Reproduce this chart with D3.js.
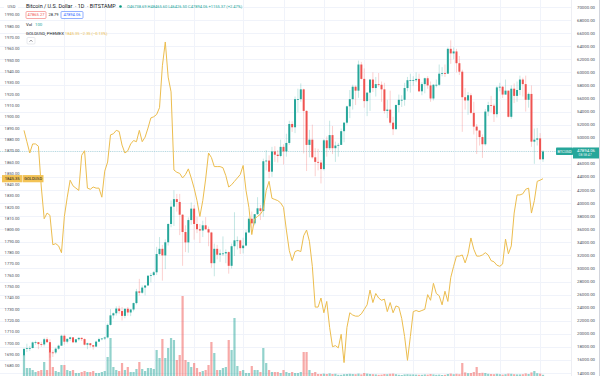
<!doctype html>
<html>
<head>
<meta charset="utf-8">
<script src="https://cdn.jsdelivr.net/npm/d3@7"></script>
<style>
  body { margin: 0; background: #fff; }
  svg { display: block; font-family: Roboto, "Liberation Sans", sans-serif; }
</style>
</head>
<body>
<svg id="chart" width="600" height="376"></svg>
<script>
// BTCUSD daily candles, 2020-11-17 .. 2021-05-16 (Bitstamp)
const firstOpen = 16720;
const btcClose = [
  17680, 17800, 17820, 18680, 18720, 18420, 18370, 19160, 18720, 17150, 17140, 17720, 18180, 19700,
  18790, 19220, 19450, 18700, 19160, 19380, 19190, 18330, 18550, 18260, 18040, 18800, 19180, 19280, 19440, 21360,
  22820, 23140, 23860, 23480, 22740, 23830, 23260, 23720, 24700, 26490, 26280, 27070, 27390, 28880, 28990,
  29410, 32200, 33000, 31990, 34000, 36800, 39450, 40600, 40170, 38220, 35570, 33980, 37400, 39150, 36800, 36000,
  35800, 36600, 36000, 35500, 30800, 33000, 32100, 32300, 32300, 32500, 30400, 33400, 34300, 34300, 33100,
  33500, 35500, 37600, 36900, 38300, 39200, 38800, 46400, 46500, 44800, 47900, 47400, 47200, 48600, 47900,
  49200, 52100, 51600, 55900, 55900, 57400, 54100, 48900, 49700, 47000, 46300, 46200, 45200,
  49600, 48400, 50400, 48400, 48800, 48900, 51000, 52300, 54800, 55900, 57800, 57200, 61200, 59000, 55600,
  56900, 58900, 57600, 58200, 58100, 57400, 54100, 54300, 52300, 51300, 55000, 55800, 55800, 57600, 58800, 58800,
  58800, 59000, 57100, 58200, 59100, 58000, 56000, 58100, 58100, 59800, 59900, 59800, 63600, 62900, 63200,
  61400, 60100, 56200, 55700, 56500, 53800, 51700, 51100, 50100, 49000, 54000, 55000, 54900, 53600, 57700,
  57800, 56600, 57200, 53200, 57500, 56400, 57300, 58900, 58200, 55800, 56700, 49400, 49700, 49900, 46700, 47894.06
];
const btcHigh = [
  17860, 18480, 18140, 18800, 18960, 18750, 18770, 19390, 19470, 19160, 17460, 17880, 18330, 19860,
  19920, 19320, 19550, 19510, 19180, 19420, 19410, 19300, 18640, 18560, 18270, 18950, 19400, 19350, 19570, 21560,
  23770, 23270, 24190, 24290, 24100, 23840, 24100, 23800, 24780, 26870, 28400, 27400, 27400, 28990, 29300,
  29600, 33300, 34800, 33600, 34450, 36900, 40400, 41950, 41400, 41400, 38300, 36600, 37800, 40100, 39700, 37900,
  36800, 37300, 37850, 36400, 35600, 33800, 33600, 32900, 34900, 32900, 32600, 33800, 38600, 34900, 34400,
  34700, 35900, 37800, 38700, 38300, 40900, 39700, 46800, 48100, 47300, 48600, 48700, 48100, 49700, 49000,
  50600, 52600, 52500, 56300, 57500, 58300, 57500, 54200, 51200, 52000, 48400, 48300, 46600,
  49800, 50200, 52600, 51800, 49400, 49200, 51400, 52400, 54900, 57300, 58100, 58000, 61800, 61600, 60600,
  56900, 58900, 60000, 59300, 59900, 58600, 58400, 55800, 57200, 53200, 55100, 56600, 56500, 58400, 59300, 59800,
  59400, 60000, 59800, 58500, 59200, 59400, 58600, 58200, 58900, 61200, 60800, 61200, 63800, 64900, 63800,
  63600, 62500, 60400, 57600, 57000, 56800, 55500, 52100, 51200, 50500, 54400, 55500, 56400, 55200, 57900,
  58400, 57900, 58900, 57200, 58000, 58300, 58600, 59500, 59200, 59500, 56900, 58000, 51400, 51500, 50700, 48100
];
const btcLow = [
  16560, 17220, 17350, 17770, 18330, 17650, 18000, 18060, 18600, 16330, 16450, 16880, 17550, 18180,
  18330, 18530, 18900, 18580, 18570, 18930, 18900, 18220, 17650, 17920, 17570, 18030, 18730, 19000, 19050, 19280,
  21260, 22330, 22780, 23070, 22030, 22370, 22750, 22700, 23430, 24500, 25850, 26100, 25880, 27350, 27880,
  28800, 29000, 32000, 28130, 29900, 33500, 36300, 36500, 38700, 35100, 30400, 32500, 32400, 36700, 34400, 35400,
  33900, 34800, 35900, 33400, 30100, 28800, 31400, 31000, 31900, 30800, 29200, 30000, 31900, 32900, 32200,
  32300, 33400, 35400, 36200, 36600, 38200, 37400, 37900, 45000, 43800, 44000, 46300, 46200, 47000, 45900,
  47100, 48900, 50900, 50700, 53900, 55500, 47600, 44900, 47000, 46800, 44100, 45000, 43000,
  45000, 47100, 48100, 47500, 46300, 47100, 48900, 49300, 52000, 53000, 54300, 55000, 56100, 58900, 54600,
  53300, 54100, 57000, 56300, 57800, 55500, 53700, 53000, 52000, 50400, 51300, 53900, 54700, 54900, 57100, 56900,
  57900, 58500, 57000, 56500, 56800, 57500, 55500, 55700, 57700, 57900, 59400, 59300, 59800, 61300, 62000,
  60000, 59600, 50900, 54300, 53500, 53600, 50500, 47500, 48800, 46900, 48800, 53300, 53900, 52400, 53100,
  57100, 56100, 56600, 53100, 52900, 55300, 55500, 56500, 56300, 54000, 54600, 48600, 46000, 48800, 46600, 46300
];
// volume, thousand BTC
const btcVolume = [
  10.5, 4, 4, 3, 2, 2.5, 3, 7, 3, 12, 4.5, 2.5, 2, 5.5,
  5.5, 3, 2.5, 3, 1.5, 1.5, 2, 2.5, 2, 2, 2.5, 1.5, 1.5, 2, 2.5, 9.5, 19, 4.5, 3, 2.5, 6.5, 3, 4.5, 2, 2, 3.5, 7, 3.5, 2.5, 4, 4,
  3.5, 13, 9, 18.5, 9, 14, 19, 18, 8, 10.5, 40, 8, 7, 4.5, 6.5, 4, 2, 2.5, 3, 5.5, 17, 11.5, 3, 3, 4, 4.5, 18, 13, 29, 5, 2.5,
  3, 1.5, 1.5, 5, 3, 3, 2, 14, 6.5, 3, 2, 2, 2, 1.5, 3, 2, 1.5, 2, 1.5, 1.5, 2, 12, 12, 3, 1.5, 2, 1, 1,
  1.2, 1.0, 1.3, 1.0, 1.1, 0.6, 0.6, 0.9, 1.0, 1.1, 1.0, 0.9, 1.2, 0.8, 1.5, 1.2, 1.0, 0.9, 0.8, 0.6, 0.7, 1.0, 0.9, 1.1, 1.2, 0.9, 0.6, 0.5, 0.8, 0.9, 0.8,
  0.8, 0.7, 0.6, 0.6, 0.8, 0.7, 1.0, 0.8, 0.6, 0.7, 0.5, 0.6, 1.0, 1.2, 0.9, 1.1, 0.9, 6.5, 1.8, 1.4, 1.5, 2.0, 4.5, 1.5, 1.6, 1.5, 1.1, 1.0, 0.9, 1.1,
  0.9, 0.7, 0.9, 1.2, 1.1, 0.9, 0.8, 0.8, 0.9, 1.3, 1.0, 1.8, 2.5, 1.4, 1.2, 0.6
];
// GOLDUSD (PHEMEX) close on the same days
const goldClose = [
  1888, 1878, 1868, 1876, 1876, 1874, 1838, 1810, 1815, 1813, 1787, 1788, 1786, 1780,
  1812, 1829, 1844, 1839, 1837, 1835, 1866, 1870, 1837, 1836, 1838, 1837, 1837, 1829, 1852, 1860,
  1884, 1885, 1888, 1887, 1875, 1868, 1870, 1876, 1879, 1878, 1888, 1878, 1882, 1890, 1899,
  1900, 1902, 1908, 1945, 1966, 1935, 1922, 1853, 1851, 1850, 1846, 1849, 1854, 1846, 1837, 1826,
  1812, 1826, 1845, 1868, 1864, 1856, 1856, 1856, 1855, 1848, 1838, 1840, 1843, 1846, 1849,
  1857, 1835, 1820, 1796, 1810, 1812, 1814, 1818, 1835, 1843, 1828, 1827, 1826, 1824, 1820,
  1800, 1782, 1773, 1781, 1782, 1781, 1795, 1800, 1790, 1768, 1732, 1732, 1740,
  1727, 1737, 1714, 1697, 1698, 1696, 1708, 1683, 1714, 1727, 1725, 1724, 1724, 1726, 1730,
  1734, 1747, 1736, 1744, 1740, 1738, 1739, 1728, 1736, 1727, 1733, 1732, 1722, 1706, 1685, 1706,
  1728, 1729, 1728, 1729, 1730, 1743, 1738, 1753, 1744, 1742, 1734, 1746, 1737, 1758, 1768,
  1777, 1777, 1778, 1771, 1779, 1793, 1783, 1777, 1777, 1778, 1780, 1778, 1773, 1772, 1769,
  1768, 1770, 1792, 1779, 1786, 1815, 1831, 1831, 1832, 1836, 1837, 1815, 1826, 1843, 1844, 1845.35
];
const btcTicks = d3.range(14000, 70001, 2000);
const goldTicks = d3.range(1680, 1991, 10);
const gridDays = ["2020-12-01", "2020-12-15", "2021-01-01", "2021-01-15", "2021-02-01", "2021-02-15",
  "2021-03-01", "2021-03-15", "2021-04-01", "2021-04-15", "2021-05-01", "2021-05-15"];

const width = 600, height = 376;
const up = "#26a69a", down = "#ef5350", goldColor = "#ecbd4e";

const days = d3.utcDay.range(new Date(Date.UTC(2020, 10, 17)), new Date(Date.UTC(2021, 4, 17)));
// daily crypto candles open at the previous close
const candles = days.map((d, i) => ({
  date: d,
  open: i ? btcClose[i - 1] : firstOpen,
  close: btcClose[i], high: btcHigh[i], low: btcLow[i],
  vol: btcVolume[i], gold: goldClose[i]
}));

const x = d3.scaleUtc().domain([days[0], days[days.length - 1]]).range([24, 543]);
const yBtc = d3.scaleLinear().domain([14000, 70000]).range([373, 7]);
const yGold = d3.scaleLinear().domain([1680, 1990]).range([366, 14.8]);
const yVol = d3.scaleLinear().domain([0, 40]).range([376, 296]);

const svg = d3.select("#chart");

// grid
svg.append("g")
    .attr("stroke", "#f0f3fa")
  .selectAll("line")
  .data(btcTicks)
  .join("line")
    .attr("x1", 0).attr("x2", 571)
    .attr("y1", (d) => Math.round(yBtc(d)) + 0.5).attr("y2", (d) => Math.round(yBtc(d)) + 0.5);

svg.append("g")
    .attr("stroke", "#f0f3fa")
  .selectAll("line")
  .data(gridDays.map((s) => new Date(s)))
  .join("line")
    .attr("x1", (d) => Math.round(x(d)) + 0.5).attr("x2", (d) => Math.round(x(d)) + 0.5)
    .attr("y1", 0).attr("y2", height);

// volume
svg.append("g")
  .selectAll("rect")
  .data(candles)
  .join("rect")
    .attr("x", (d) => x(d.date) - 1.1)
    .attr("width", 2.2)
    .attr("y", (d) => yVol(d.vol))
    .attr("height", (d) => yVol(0) - yVol(d.vol))
    .attr("fill", (d) => d.close >= d.open ? up : down)
    .attr("fill-opacity", 0.5);

// last price line
const last = candles[candles.length - 1];
svg.append("line")
    .attr("x1", 0).attr("x2", 571)
    .attr("y1", yBtc(last.close)).attr("y2", yBtc(last.close))
    .attr("stroke", up).attr("stroke-opacity", 0.5)
    .attr("stroke-width", 0.6).attr("stroke-dasharray", "1,1.2");

// candles
const candle = svg.append("g")
  .selectAll("g")
  .data(candles)
  .join("g")
    .attr("transform", (d) => `translate(${x(d.date)},0)`);

candle.append("line")
    .attr("y1", (d) => yBtc(d.high))
    .attr("y2", (d) => yBtc(d.low))
    .attr("stroke", (d) => d.close >= d.open ? up : down)
    .attr("stroke-opacity", 0.45)
    .attr("stroke-width", 0.6);

candle.append("rect")
    .attr("x", -1)
    .attr("width", 2)
    .attr("y", (d) => yBtc(Math.max(d.open, d.close)))
    .attr("height", (d) => Math.max(0.8, Math.abs(yBtc(d.open) - yBtc(d.close))))
    .attr("fill", (d) => d.close >= d.open ? up : down);

// gold compare line
svg.append("path")
    .datum(candles)
    .attr("fill", "none")
    .attr("stroke", goldColor)
    .attr("stroke-width", 1)
    .attr("stroke-linejoin", "round")
    .attr("d", d3.line().x((d) => x(d.date)).y((d) => yGold(d.gold)));

// right scale
svg.append("rect").attr("x", 571).attr("y", 0).attr("width", 29).attr("height", height).attr("fill", "#fff");
svg.append("line").attr("x1", 571.5).attr("x2", 571.5).attr("y1", 0).attr("y2", height).attr("stroke", "#e0e3eb").attr("stroke-width", 0.6);
svg.append("line").attr("x1", 599.5).attr("x2", 599.5).attr("y1", 0).attr("y2", height).attr("stroke", "#d1d4dc").attr("stroke-width", 1);

svg.append("g")
    .attr("font-size", 4.3)
    .attr("fill", "#4a4e59")
  .selectAll("text")
  .data(btcTicks)
  .join("text")
    .attr("x", 577)
    .attr("y", (d) => yBtc(d))
    .attr("dy", "0.35em")
    .text((d) => d.toFixed(2));

// left scale
svg.append("g")
    .attr("font-size", 4.1)
    .attr("fill", "#4a4e59")
    .attr("text-anchor", "end")
  .selectAll("text")
  .data(goldTicks)
  .join("text")
    .attr("x", 19.5)
    .attr("y", (d) => yGold(d))
    .attr("dy", "0.35em")
    .text((d) => d.toFixed(2));
svg.append("rect").attr("x", 4).attr("y", 2.5).attr("width", 14).attr("height", 6).attr("fill", "#fff");
svg.append("text").attr("x", 11.5).attr("y", 6.2).attr("dy", "0.35em").attr("text-anchor", "middle")
    .attr("font-size", 4.1).attr("fill", "#4a4e59").text("USD");

// price badges
const yb = yBtc(last.close);
svg.append("rect").attr("x", 556).attr("y", yb - 4).attr("width", 17).attr("height", 7.5).attr("rx", 0.8).attr("fill", up);
svg.append("text").attr("x", 564.5).attr("y", yb).attr("dy", "0.35em").attr("text-anchor", "middle")
    .attr("font-size", 3.8).attr("fill", "#fff").text("BTCUSD");
svg.append("rect").attr("x", 573).attr("y", yb - 4).attr("width", 26).attr("height", 11).attr("fill", up);
svg.append("text").attr("x", 577).attr("y", yb - 1.2).attr("dy", "0.35em")
    .attr("font-size", 4.3).attr("fill", "#fff").text(last.close.toFixed(2));
svg.append("text").attr("x", 578.5).attr("y", yb + 3.6).attr("dy", "0.35em")
    .attr("font-size", 3.4).attr("fill", "#fff").attr("fill-opacity", 0.85).text("08:58:47");

const yg = yGold(last.gold);
svg.append("rect").attr("x", 2).attr("y", yg - 3.6).attr("width", 20.5).attr("height", 7.2).attr("fill", "#f3c355");
svg.append("text").attr("x", 12.2).attr("y", yg).attr("dy", "0.35em").attr("text-anchor", "middle")
    .attr("font-size", 4.1).attr("fill", "#131722").text(last.gold.toFixed(2));
svg.append("rect").attr("x", 23).attr("y", yg - 3.6).attr("width", 20.5).attr("height", 7.2).attr("fill", "#f3c355");
svg.append("text").attr("x", 33.2).attr("y", yg).attr("dy", "0.35em").attr("text-anchor", "middle")
    .attr("font-size", 4).attr("fill", "#131722").text("GOLDUSD");

// legend / header
const head = svg.append("g");
head.append("text").attr("x", 26).attr("y", 6.5).attr("dy", "0.35em")
    .attr("font-size", 5.4).attr("fill", "#131722").text("Bitcoin / U.S. Dollar \u00a0\u00b7 1D \u00a0\u00b7 BITSTAMP");
head.append("circle").attr("cx", 120.5).attr("cy", 6.5).attr("r", 1.3).attr("fill", "#089981");
head.append("text").attr("x", 127).attr("y", 6.5).attr("dy", "0.35em")
    .attr("font-size", 4).attr("fill", up)
    .text("O46738.69 H48465.60 L46426.50 C47894.06 +1155.37 (+2.47%)");

head.append("rect").attr("x", 26).attr("y", 11.5).attr("width", 20).attr("height", 7).attr("rx", 1)
    .attr("fill", "#fff").attr("stroke", down).attr("stroke-width", 0.5);
head.append("text").attr("x", 36).attr("y", 15).attr("dy", "0.35em").attr("text-anchor", "middle")
    .attr("font-size", 4).attr("fill", down).text("47865.27");
head.append("text").attr("x", 53.5).attr("y", 15).attr("dy", "0.35em").attr("text-anchor", "middle")
    .attr("font-size", 4).attr("fill", "#131722").text("28.79");
head.append("rect").attr("x", 61).attr("y", 11.5).attr("width", 22).attr("height", 7).attr("rx", 1)
    .attr("fill", "#fff").attr("stroke", "#2962ff").attr("stroke-width", 0.5);
head.append("text").attr("x", 72).attr("y", 15).attr("dy", "0.35em").attr("text-anchor", "middle")
    .attr("font-size", 4).attr("fill", "#2962ff").text("47894.06");

head.append("text").attr("x", 26).attr("y", 24.5).attr("dy", "0.35em")
    .attr("font-size", 4.3).attr("fill", "#131722").text("Vol");
head.append("text").attr("x", 35).attr("y", 24.5).attr("dy", "0.35em")
    .attr("font-size", 4.3).attr("fill", up).text("100");

head.append("text").attr("x", 26).attr("y", 33.5).attr("dy", "0.35em")
    .attr("font-size", 4.3).attr("fill", "#131722").text("GOLDUSD, PHEMEX");
head.append("text").attr("x", 65).attr("y", 33.5).attr("dy", "0.35em")
    .attr("font-size", 4).attr("fill", goldColor).text("1845.35 \u22122.35 (\u22120.13%)");

head.append("rect").attr("x", 27).attr("y", 37.5).attr("width", 8).attr("height", 6.5).attr("rx", 1)
    .attr("fill", "#fff").attr("stroke", "#d1d4dc").attr("stroke-width", 0.5);
head.append("path").attr("d", "M29.6,41.6 L31,40.2 L32.4,41.6")
    .attr("fill", "none").attr("stroke", "#131722").attr("stroke-width", 0.5);
</script>
</body>
</html>
